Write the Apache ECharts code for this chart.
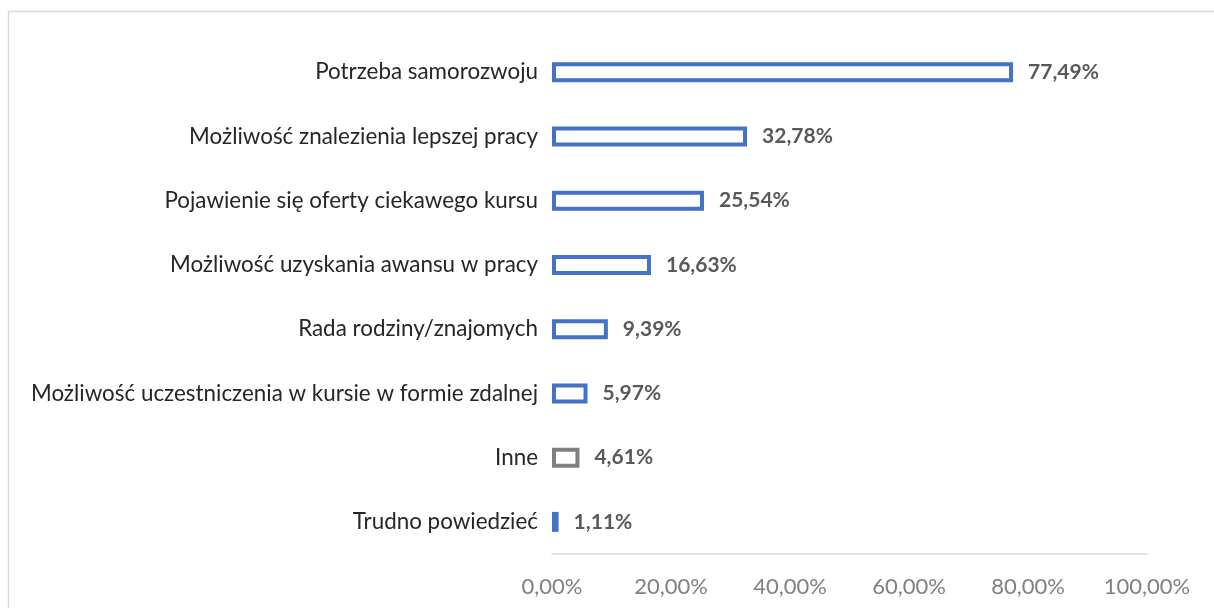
<!DOCTYPE html>
<html>
<head>
<meta charset="utf-8">
<script src="https://cdn.jsdelivr.net/npm/echarts@6/dist/echarts.min.js"></script>
<style>
  html, body { margin: 0; padding: 0; background: #fff; }
  #chart { width: 1214px; height: 608px; }
</style>
</head>
<body>
<div id="chart"></div>
<script>
// kategorie od góry do dołu
const categories = [
  'Potrzeba samorozwoju',
  'Możliwość znalezienia lepszej pracy',
  'Pojawienie się oferty ciekawego kursu',
  'Możliwość uzyskania awansu w pracy',
  'Rada rodziny/znajomych',
  'Możliwość uczestniczenia w kursie w formie zdalnej',
  'Inne',
  'Trudno powiedzieć'
]
const values = [77.49, 32.78, 25.54, 16.63, 9.39, 5.97, 4.61, 1.11]
const barColors = ['#4472c4', '#4472c4', '#4472c4', '#4472c4', '#4472c4', '#4472c4', '#7f7f7f', '#4472c4']

const fmt = v => v.toFixed(2).replace('.', ',') + '%'

const font = 'Lato, "Open Sans", sans-serif'

// puste słupki z obramowaniem
const data = values.map((v, i) => ({
  value: v,
  itemStyle: { color: '#fff', borderColor: barColors[i], borderWidth: 4 }
}))

const chart = echarts.init(document.getElementById('chart'))
chart.setOption({
  animation: false,
  graphic: [{
    type: 'rect',
    shape: { x: 8.5, y: 11.5, width: 1220, height: 620 },
    style: { fill: 'none', stroke: '#d9d9d9', lineWidth: 1.5 },
    silent: true
  }],
  grid: { left: 552, right: 67, top: 40, bottom: 54 },
  xAxis: {
    type: 'value',
    min: 0,
    max: 100,
    interval: 20,
    splitLine: { show: false },
    axisLine: { show: true, lineStyle: { color: '#d9d9d9', width: 1.5 } },
    axisTick: { show: false },
    axisLabel: {
      formatter: v => fmt(v),
      color: '#808080',
      fontSize: 22,
      fontFamily: font,
      margin: 22
    }
  },
  yAxis: {
    type: 'category',
    data: categories,
    inverse: true,
    axisLine: { show: false },
    axisTick: { show: false },
    axisLabel: {
      color: '#262626',
      fontSize: 22.4,
      fontFamily: font,
      margin: 14
    }
  },
  series: [{
    type: 'bar',
    data: data,
    barWidth: 20,
    label: {
      show: true,
      position: 'right',
      distance: 15,
      formatter: p => fmt(p.value),
      color: '#595959',
      fontWeight: 'bold',
      fontSize: 21,
      fontFamily: font
    }
  }]
})
</script>
</body>
</html>
